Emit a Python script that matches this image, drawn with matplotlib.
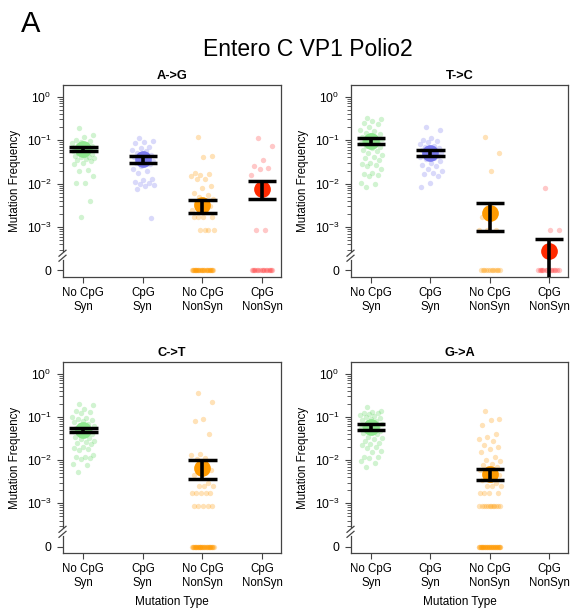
import numpy as np
import matplotlib
matplotlib.use('Agg')
import matplotlib.pyplot as plt
from matplotlib.ticker import FixedLocator, NullFormatter

plt.rcParams['font.family'] = ['Liberation Sans', 'DejaVu Sans']
plt.rcParams['mathtext.fontset'] = 'custom'
plt.rcParams['mathtext.rm'] = 'Liberation Sans'
plt.rcParams['mathtext.it'] = 'Liberation Sans:italic'
plt.rcParams['mathtext.bf'] = 'Liberation Sans:bold'

# ---------------- data ----------------
categories = ['No CpG\nSyn', 'CpG\nSyn', 'No CpG\nNonSyn', 'CpG\nNonSyn']
panel_titles = ['A->G', 'T->C', 'C->T', 'G->A']
main_title = 'Entero C VP1 Polio2'
ytick_vals = [1.0, 0.1, 0.01, 0.001, 0.0]
ytick_labels = ['$10^0$', '$10^{-1}$', '$10^{-2}$', '$10^{-3}$', '0']

# A->G
ag_nocpg_syn = [0.19, 0.13, 0.12, 0.10, 0.095, 0.09, 0.085, 0.08, 0.078, 0.075, 0.072, 0.07,
                0.068, 0.066, 0.064, 0.062, 0.06, 0.058, 0.056, 0.055, 0.053, 0.05, 0.048,
                0.046, 0.044, 0.042, 0.04, 0.038, 0.036, 0.035, 0.033, 0.03, 0.028, 0.021,
                0.019, 0.015, 0.0105, 0.0102, 0.004, 0.0017]
ag_cpg_syn = [0.11, 0.095, 0.09, 0.085, 0.07, 0.065, 0.06, 0.055, 0.05, 0.045, 0.042, 0.04,
              0.038, 0.036, 0.034, 0.032, 0.03, 0.028, 0.025, 0.022, 0.019, 0.018, 0.013,
              0.012, 0.011, 0.0105, 0.010, 0.0095, 0.009, 0.0075, 0.0016]
ag_nocpg_nonsyn = [0.12, 0.043, 0.04, 0.018, 0.017, 0.016, 0.015, 0.013, 0.0125, 0.009,
                   0.008, 0.006, 0.0055, 0.005, 0.0045, 0.004, 0.0035, 0.003, 0.0028, 0.0025,
                   0.0025, 0.0017, 0.0017, 0.0017, 0.0017, 0.00085, 0.00085, 0.00085,
                   0.00085] + [0.0] * 30
ag_cpg_nonsyn = [0.11, 0.075, 0.035, 0.026, 0.023, 0.022, 0.016, 0.00085, 0.00085] + [0.0] * 16
ag_mean = [0.062, 0.037, 0.0032, 0.0074]
ag_lo = [0.055, 0.030, 0.0021, 0.0044]
ag_hi = [0.069, 0.0436, 0.0042, 0.0112]

# T->C
tc_nocpg_syn = [0.32, 0.30, 0.28, 0.25, 0.24, 0.20, 0.17, 0.16, 0.15, 0.14, 0.13, 0.12, 0.115,
                0.11, 0.105, 0.10, 0.095, 0.09, 0.088, 0.085, 0.08, 0.075, 0.07, 0.065, 0.06,
                0.055, 0.05, 0.045, 0.04, 0.038, 0.035, 0.03, 0.028, 0.027, 0.025, 0.022,
                0.018, 0.017, 0.016, 0.015, 0.0105, 0.010, 0.0085]
tc_cpg_syn = [0.20, 0.17, 0.11, 0.10, 0.095, 0.09, 0.08, 0.075, 0.07, 0.065, 0.06, 0.058,
              0.055, 0.052, 0.05, 0.048, 0.046, 0.044, 0.042, 0.04, 0.038, 0.036, 0.033,
              0.03, 0.027, 0.025, 0.022, 0.02, 0.018, 0.017, 0.015, 0.0105, 0.0085]
tc_nocpg_nonsyn = [0.12, 0.052, 0.019, 0.0017, 0.00085, 0.00085, 0.00085] + [0.0] * 12
tc_cpg_nonsyn = [0.0078, 0.00085, 0.00085] + [0.0] * 14
tc_mean = [0.097, 0.051, 0.0021, 0.00028]
tc_lo = [0.082, 0.044, 0.00081, -0.0002]
tc_hi = [0.115, 0.060, 0.0035, 0.00052]

# C->T
ct_nocpg_syn = [0.20, 0.19, 0.15, 0.14, 0.13, 0.12, 0.10, 0.095, 0.09, 0.085, 0.08, 0.075,
                0.07, 0.065, 0.06, 0.058, 0.055, 0.052, 0.05, 0.048, 0.045, 0.042, 0.04,
                0.038, 0.035, 0.032, 0.03, 0.028, 0.026, 0.025, 0.024, 0.02, 0.019, 0.018,
                0.017, 0.013, 0.012, 0.012, 0.011, 0.0105, 0.008, 0.0075, 0.0052]
ct_cpg_syn = []
ct_nocpg_nonsyn = [0.35, 0.22, 0.09, 0.08, 0.041, 0.014, 0.013, 0.011, 0.0105, 0.006, 0.0055,
                   0.0045, 0.003, 0.0025, 0.0025, 0.0025, 0.0017, 0.0017, 0.0017, 0.0017,
                   0.0017, 0.00085, 0.00085, 0.00085, 0.00085, 0.00085] + [0.0] * 35
ct_cpg_nonsyn = []
ct_mean = [0.049, np.nan, 0.0066, np.nan]
ct_lo = [0.044, np.nan, 0.0037, np.nan]
ct_hi = [0.055, np.nan, 0.0100, np.nan]

# G->A
ga_nocpg_syn = [0.17, 0.14, 0.13, 0.125, 0.12, 0.115, 0.11, 0.105, 0.10, 0.095, 0.09, 0.085,
                0.08, 0.075, 0.07, 0.066, 0.063, 0.06, 0.058, 0.055, 0.052, 0.05, 0.048,
                0.045, 0.042, 0.04, 0.035, 0.032, 0.03, 0.028, 0.025, 0.023, 0.022, 0.02,
                0.019, 0.016, 0.015, 0.012, 0.0115, 0.011, 0.0095, 0.0085, 0.0068]
ga_cpg_syn = []
ga_nocpg_nonsyn = [0.135, 0.09, 0.085, 0.066, 0.04, 0.035, 0.03, 0.028, 0.022, 0.02, 0.018,
                   0.015, 0.012, 0.010, 0.0095, 0.008, 0.0075, 0.007, 0.0065, 0.006, 0.0055,
                   0.005, 0.0045, 0.004, 0.0035, 0.003, 0.0025, 0.0025, 0.0025, 0.0017,
                   0.0017, 0.0017, 0.0017] + [0.00085] * 12 + [0.0] * 35
ga_cpg_nonsyn = []
ga_mean = [0.059, np.nan, 0.0047, np.nan]
ga_lo = [0.051, np.nan, 0.0035, np.nan]
ga_hi = [0.068, np.nan, 0.0062, np.nan]

# ---------------- styling ----------------
point_colors = ['#5cd65c', '#7878ee', '#ff9a00', '#ff3a3a']
mean_colors = ['#8fe88f', '#7b7bf0', '#ff9a00', '#ff2a00']
ZERO_AT = 1e-4            # display position of the "0" row on the broken log axis
BREAK_AT = 10 ** -3.66
YLIM = (10 ** -4.15, 10 ** 0.27)
XLIM = (0.66, 4.32)
JIT = 0.19
CAP = 0.24
W, H = 571, 616
spine_col = '#444444'

fig = plt.figure(figsize=(W / 100, H / 100), dpi=100)

positions = [
    [63 / W, 1 - 277 / H, 218 / W, 192 / H],
    [351 / W, 1 - 277 / H, 217 / W, 192 / H],
    [63 / W, 1 - 553 / H, 218 / W, 191 / H],
    [351 / W, 1 - 553 / H, 217 / W, 191 / H],
]

panels = [
    ([ag_nocpg_syn, ag_cpg_syn, ag_nocpg_nonsyn, ag_cpg_nonsyn], ag_mean, ag_lo, ag_hi),
    ([tc_nocpg_syn, tc_cpg_syn, tc_nocpg_nonsyn, tc_cpg_nonsyn], tc_mean, tc_lo, tc_hi),
    ([ct_nocpg_syn, ct_cpg_syn, ct_nocpg_nonsyn, ct_cpg_nonsyn], ct_mean, ct_lo, ct_hi),
    ([ga_nocpg_syn, ga_cpg_syn, ga_nocpg_nonsyn, ga_cpg_nonsyn], ga_mean, ga_lo, ga_hi),
]

minor = [k * 10.0 ** e for e in (-1, -2, -3) for k in range(2, 10)] + \
        [k * 1e-4 for k in range(3, 10)]

for pi, (groups, means, los, his) in enumerate(panels):
    ax = fig.add_axes(positions[pi])
    ax.set_yscale('log')
    ax.set_ylim(*YLIM)
    ax.set_xlim(*XLIM)
    for gi, vals in enumerate(groups):
        if len(vals) == 0:
            continue
        v = np.asarray(vals, float)
        idx = np.arange(len(v))
        off = ((idx * 0.6180339887 + 0.31) % 1.0 - 0.5) * 2 * JIT
        y = np.where(v > 0, v, ZERO_AT)
        ax.scatter(gi + 1 + off, y, s=15, color=point_colors[gi], alpha=0.28,
                   linewidths=0, zorder=2)
    for gi in range(4):
        m = means[gi]
        if np.isnan(m):
            continue
        ax.scatter([gi + 1], [m], s=145, color=mean_colors[gi], linewidths=0, zorder=3)
        lo, hi = los[gi], his[gi]
        ybot = lo if lo > 0 else YLIM[0]
        ax.plot([gi + 1, gi + 1], [ybot, hi], color='black', lw=2.6,
                solid_capstyle='butt', zorder=4)
        ax.plot([gi + 1 - CAP, gi + 1 + CAP], [hi, hi], color='black', lw=2.5,
                solid_capstyle='butt', zorder=4)
        if lo > 0:
            ax.plot([gi + 1 - CAP, gi + 1 + CAP], [lo, lo], color='black', lw=2.5,
                    solid_capstyle='butt', zorder=4)

    # axes styling
    ax.set_yticks([t if t > 0 else ZERO_AT for t in ytick_vals])
    ax.set_yticklabels(ytick_labels, fontsize=8.7)
    ax.yaxis.set_minor_locator(FixedLocator(minor))
    ax.yaxis.set_minor_formatter(NullFormatter())
    ax.set_xticks([1, 2, 3, 4])
    ax.set_xticklabels(categories, fontsize=8.3, linespacing=1.2)
    ax.tick_params(axis='both', which='major', direction='out', length=4.3, width=0.8,
                   color=spine_col, pad=3)
    ax.tick_params(axis='y', which='minor', direction='out', length=2.6, width=0.6,
                   color=spine_col)
    ax.tick_params(axis='y', which='major', pad=4)
    for s in ax.spines.values():
        s.set_color(spine_col)
        s.set_linewidth(0.9)
    ax.set_title(panel_titles[pi], fontsize=9.2, fontweight='bold', pad=4.5)
    ax.set_ylabel('Mutation Frequency', fontsize=8.3)
    ax.yaxis.set_label_coords(-42 / 218, 0.5)
    if pi >= 2:
        ax.set_xlabel('Mutation Type', fontsize=8.5)
        ax.xaxis.set_label_coords(0.5, -0.225)

    # axis break marks on the left spine
    lg = np.log10
    fy = (lg(BREAK_AT) - lg(YLIM[0])) / (lg(YLIM[1]) - lg(YLIM[0]))
    axh = positions[pi][3] * H
    axw = positions[pi][2] * W
    gap = 2.5 / axh
    ax.plot([0, 0], [fy - gap, fy + gap], transform=ax.transAxes, color='white',
            lw=2.0, clip_on=False, zorder=6)
    for dy in (-gap, gap):
        ax.plot([-4 / axw, 3 / axw], [fy + dy - 3 / axh, fy + dy + 3 / axh],
                transform=ax.transAxes, color=spine_col, lw=0.9, clip_on=False, zorder=7)

fig.text(308 / W, 1 - 49 / H, main_title, ha='center', va='center', fontsize=16.5)
fig.text(21 / W, 1 - 32 / H, 'A', ha='left', va='baseline', fontsize=21)

fig.savefig('out.png', dpi=100)
